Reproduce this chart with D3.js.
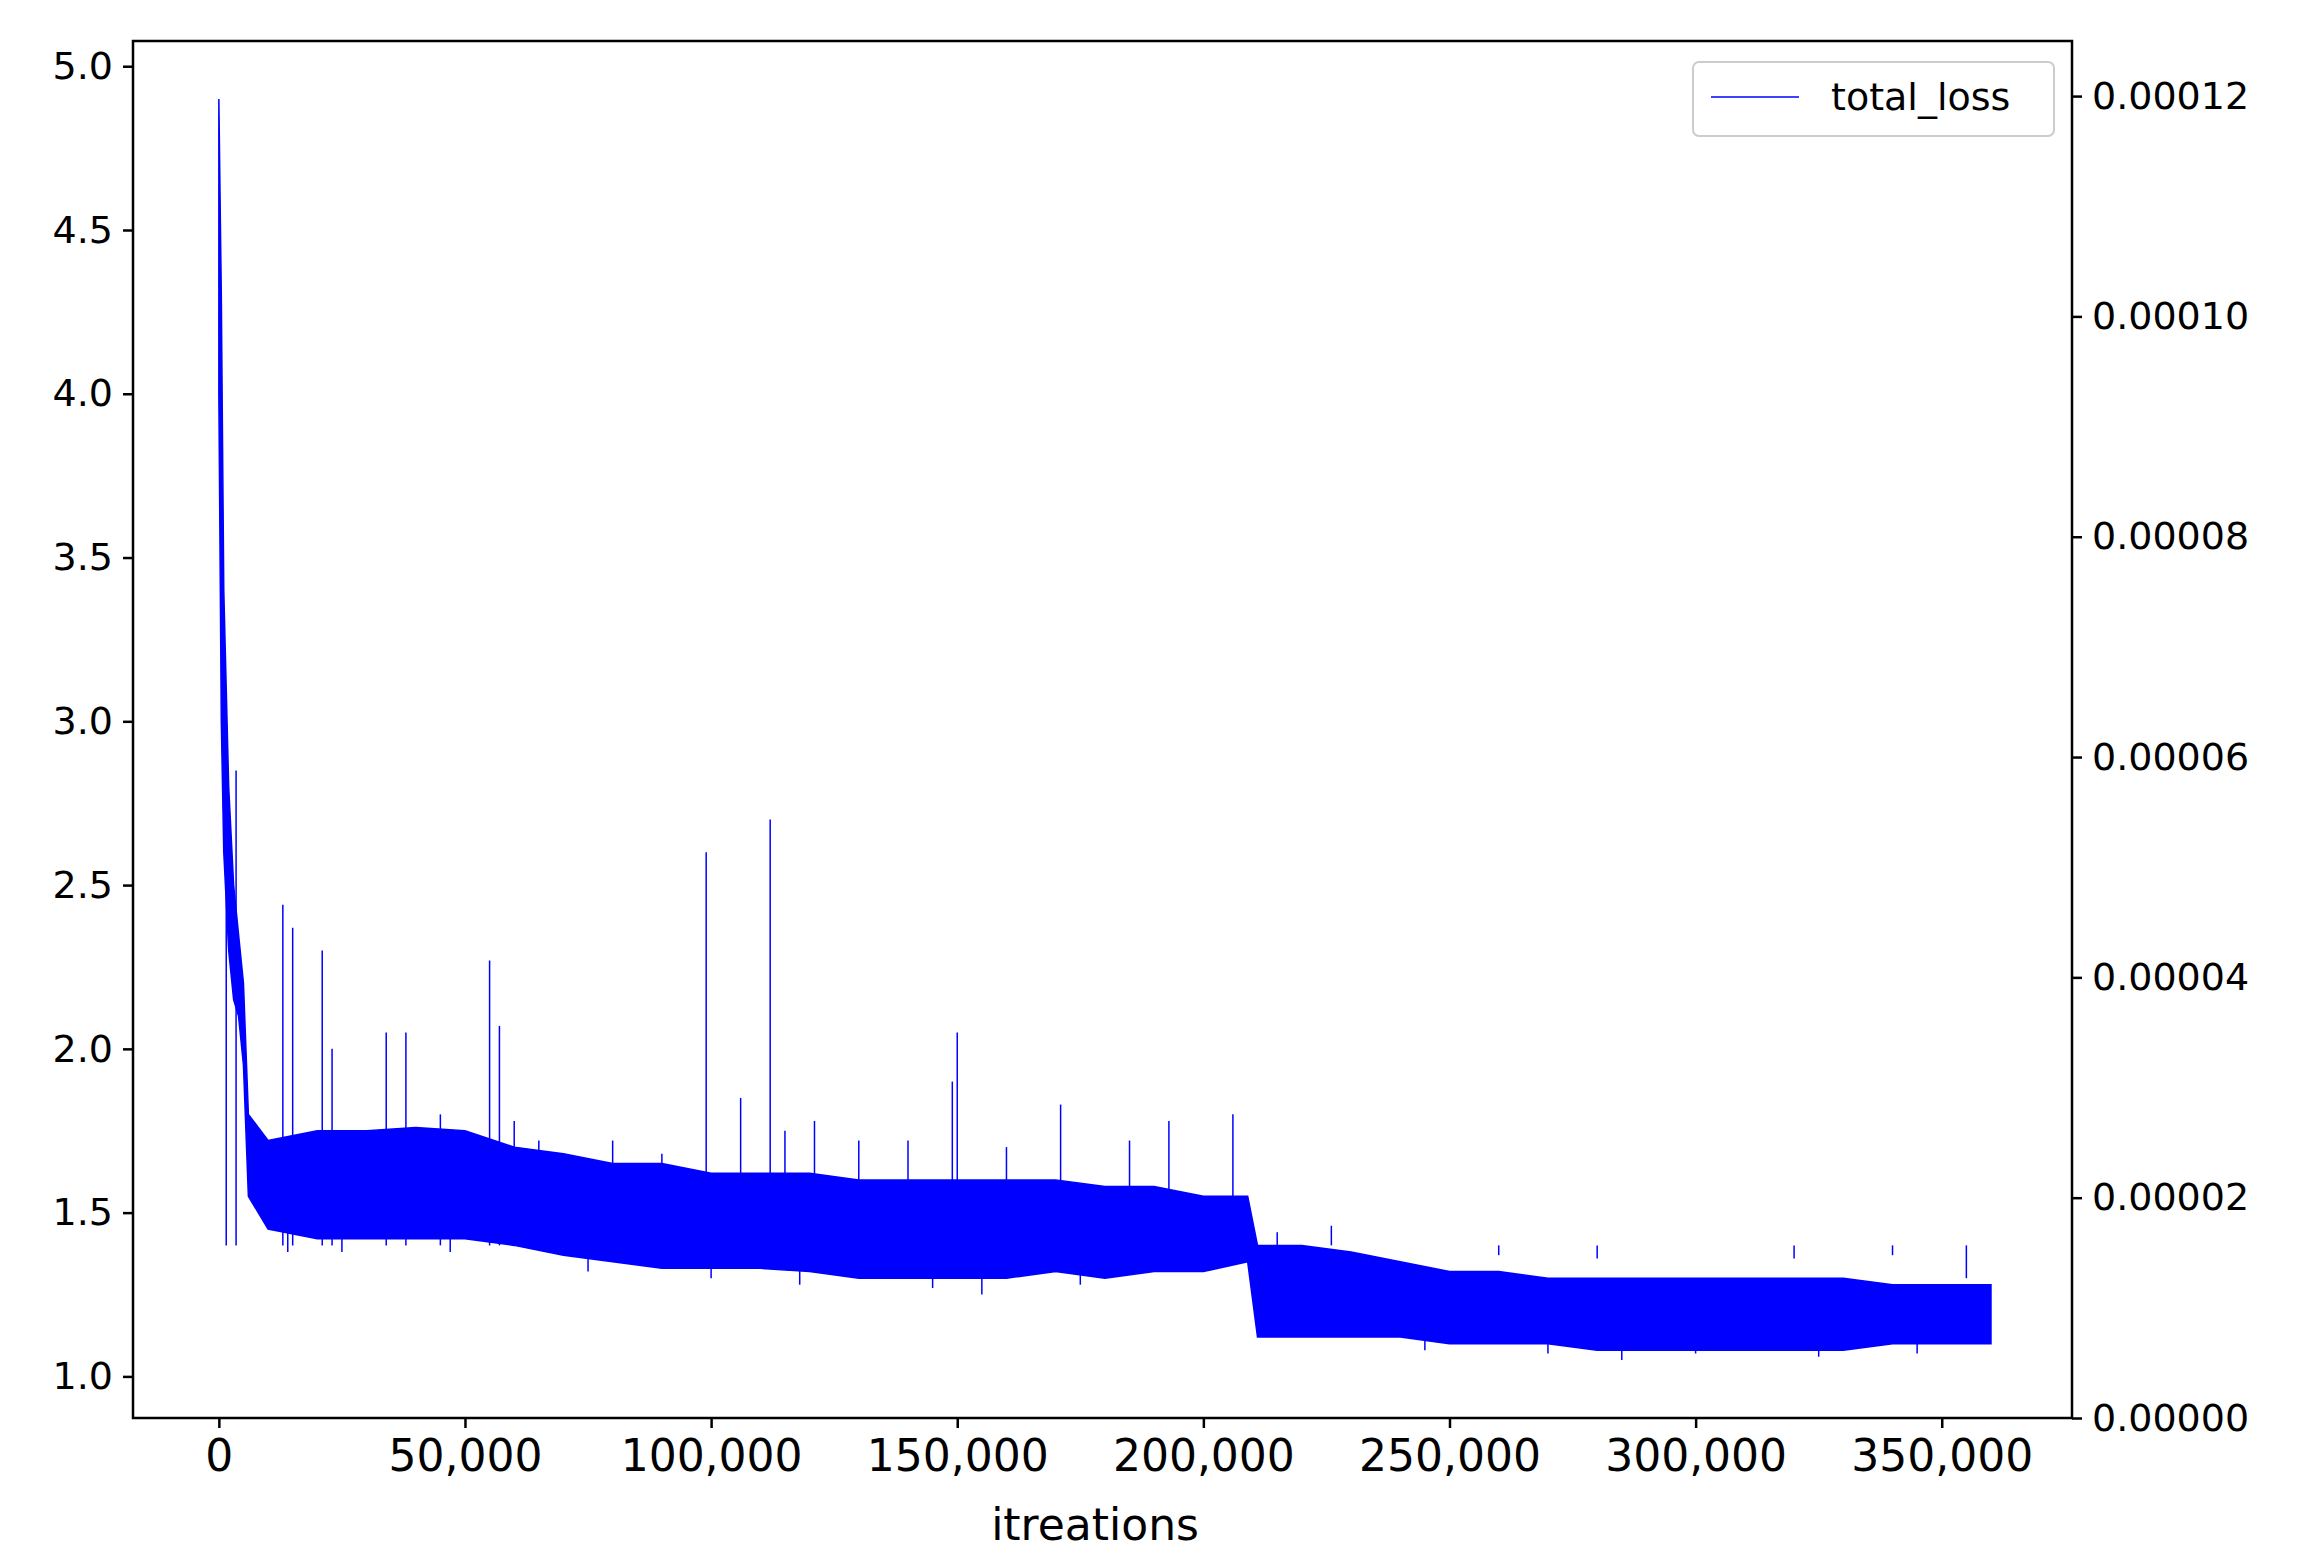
<!DOCTYPE html>
<html><head><meta charset="utf-8">
<script src="https://cdn.jsdelivr.net/npm/d3@7"></script>
<style>body{margin:0;background:#fff}text{font-family:"DejaVu Sans",sans-serif}</style>
</head><body><svg id="chart" width="2310" height="1564"></svg>
<script>
// envelope of the noisy loss band
const iters = [0, 500, 1000, 2000, 3000, 4000, 5000, 6000, 10000, 20000, 30000, 40000, 50000, 60000, 70000, 80000, 90000, 100000, 110000, 120000, 130000, 140000, 150000, 160000, 170000, 180000, 190000, 200000, 209000, 211000, 220000, 230000, 240000, 250000, 260000, 270000, 280000, 290000, 300000, 310000, 320000, 330000, 340000, 350000, 360000];
const upper = [4.9, 4.3, 3.4, 2.8, 2.5, 2.35, 2.2, 1.8, 1.72, 1.75, 1.75, 1.76, 1.75, 1.7, 1.68, 1.65, 1.65, 1.62, 1.62, 1.62, 1.6, 1.6, 1.6, 1.6, 1.6, 1.58, 1.58, 1.55, 1.55, 1.4, 1.4, 1.38, 1.35, 1.32, 1.32, 1.3, 1.3, 1.3, 1.3, 1.3, 1.3, 1.3, 1.28, 1.28, 1.28];
const lower = [4.0, 3.0, 2.6, 2.3, 2.15, 2.1, 1.95, 1.55, 1.45, 1.42, 1.42, 1.42, 1.42, 1.4, 1.37, 1.35, 1.33, 1.33, 1.33, 1.32, 1.3, 1.3, 1.3, 1.3, 1.32, 1.3, 1.32, 1.32, 1.35, 1.12, 1.12, 1.12, 1.12, 1.1, 1.1, 1.1, 1.08, 1.08, 1.08, 1.08, 1.08, 1.08, 1.1, 1.1, 1.1];
// isolated spikes above the band
const spikeX = [1500, 3500, 13000, 15000, 21000, 23000, 34000, 38000, 45000, 55000, 57000, 60000, 65000, 80000, 90000, 99000, 106000, 112000, 115000, 121000, 130000, 140000, 149000, 150000, 160000, 171000, 185000, 193000, 206000, 215000, 226000, 240000, 260000, 280000, 302000, 320000, 340000, 355000];
const spikeY = [2.58, 2.85, 2.44, 2.37, 2.3, 2.0, 2.05, 2.05, 1.8, 2.27, 2.07, 1.78, 1.72, 1.72, 1.68, 2.6, 1.85, 2.7, 1.75, 1.78, 1.72, 1.72, 1.9, 2.05, 1.7, 1.83, 1.72, 1.78, 1.8, 1.44, 1.46, 1.4, 1.37, 1.36, 1.4, 1.36, 1.37, 1.3];
// dips below the band
const dipX = [14000, 25000, 47000, 75000, 100000, 118000, 145000, 155000, 175000, 210000, 245000, 270000, 285000, 300000, 325000, 345000];
const dipY = [1.38, 1.38, 1.38, 1.32, 1.3, 1.28, 1.27, 1.25, 1.28, 1.3, 1.08, 1.07, 1.05, 1.07, 1.06, 1.07];
const xTicks = [0, 50000, 100000, 150000, 200000, 250000, 300000, 350000];
const yTicks = [1.0, 1.5, 2.0, 2.5, 3.0, 3.5, 4.0, 4.5, 5.0];
const y2Ticks = [0, 0.00002, 0.00004, 0.00006, 0.00008, 0.0001, 0.00012];

const L = 133, T = 41, W = 1939, H = 1377;
const svg = d3.select("#chart");
const g = svg.append("g").attr("transform", `translate(${L},${T})`);
const x = d3.scaleLinear().domain([-17440, 376460]).range([0, W]);
const y = d3.scaleLinear().domain([0.873, 5.077]).range([H, 0]);
const y2 = d3.scaleLinear().domain([0, 0.000125]).range([H, 0]);

const band = iters.map((d, i) => ({x: d, lo: lower[i], hi: upper[i]}));
g.append("path").datum(band).attr("fill", "#0000ff").attr("stroke", "#0000ff").attr("stroke-width", 1.5)
  .attr("d", d3.area().x(d => x(d.x)).y0(d => y(d.lo)).y1(d => y(d.hi)));
g.selectAll("line.spike").data(spikeX).join("line").attr("class", "spike")
  .attr("x1", d => x(d)).attr("x2", d => x(d))
  .attr("y1", (d, i) => y(spikeY[i])).attr("y2", d => y(1.4))
  .attr("stroke", "#0000ff").attr("stroke-width", 1.5);
g.selectAll("line.dip").data(dipX).join("line").attr("class", "dip")
  .attr("x1", d => x(d)).attr("x2", d => x(d))
  .attr("y1", (d, i) => y(dipY[i])).attr("y2", (d, i) => y(dipY[i] + 0.1))
  .attr("stroke", "#0000ff").attr("stroke-width", 1.5);

const fmt = d3.format(",");
const ax = g.append("g").attr("transform", `translate(0,${H})`)
  .call(d3.axisBottom(x).tickValues(xTicks).tickFormat(fmt).tickSize(10).tickPadding(8));
ax.selectAll("text").attr("font-size", 44).attr("dy", "0.8em");
const ay = g.append("g").call(d3.axisLeft(y).tickValues(yTicks).tickFormat(d3.format(".1f")).tickSize(10).tickPadding(10));
ay.selectAll("text").attr("font-size", 38);
const ay2 = g.append("g").attr("transform", `translate(${W},0)`)
  .call(d3.axisRight(y2).tickValues(y2Ticks).tickFormat(d3.format(".5f")).tickSize(10).tickPadding(10));
ay2.selectAll("text").attr("font-size", 38);
g.selectAll(".domain").remove();
g.selectAll(".tick line").attr("stroke-width", 2.5);
g.append("rect").attr("width", W).attr("height", H).attr("fill", "none").attr("stroke", "#000").attr("stroke-width", 2.5);

svg.append("text").attr("x", L + x(178000)).attr("y", 1540).attr("text-anchor", "middle")
  .attr("font-size", 44).text("itreations");

const lg = svg.append("g").attr("transform", "translate(1693,62)");
lg.append("rect").attr("width", 361).attr("height", 74).attr("rx", 6).attr("fill", "#fff").attr("stroke", "#ccc").attr("stroke-width", 2);
lg.append("line").attr("x1", 18).attr("x2", 106).attr("y1", 35).attr("y2", 35).attr("stroke", "#0000ff").attr("stroke-width", 1.5);
lg.append("text").attr("x", 138).attr("y", 48).attr("font-size", 38).text("total_loss");
</script></body></html>
